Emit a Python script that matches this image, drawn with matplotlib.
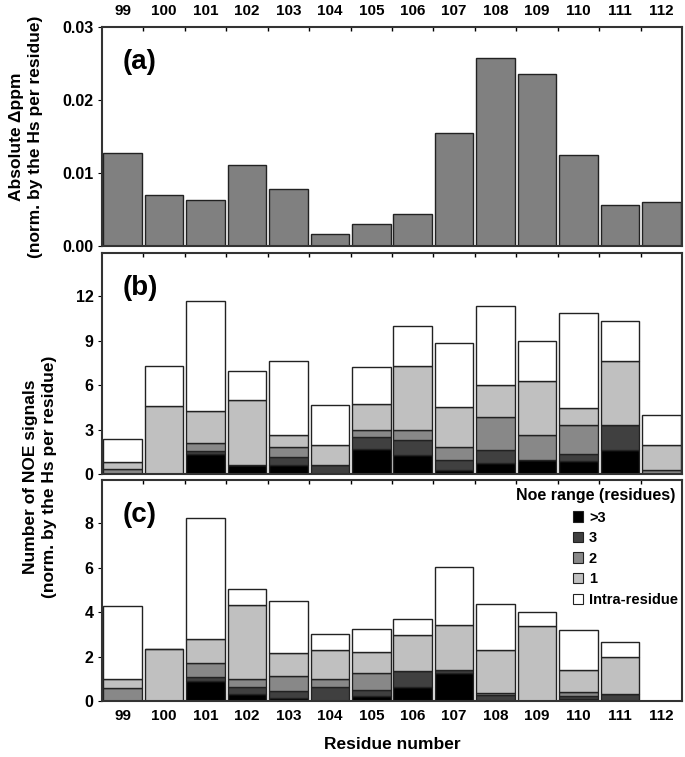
import numpy as np
import matplotlib
matplotlib.use("Agg")
import matplotlib.pyplot as plt
from matplotlib.patches import Patch

plt.rcParams['font.family'] = ['Liberation Sans', 'DejaVu Sans']
plt.rcParams['font.weight'] = 'bold'

residues = ['99', '100', '101', '102', '103', '104', '105', '106', '107', '108', '109', '110', '111', '112']

# (a) absolute delta ppm per residue
dppm = [0.01277, 0.00702, 0.00625, 0.01112, 0.0078, 0.0016, 0.00296,
        0.00433, 0.01541, 0.02571, 0.02353, 0.01245, 0.00565, 0.00606]

# (b) NOE signals by range
b_gt3 = [0, 0, 1.37, 0.61, 0.61, 0, 1.68, 1.28, 0.24, 0.76, 0.94, 0.85, 1.61, 0]
b_r3 = [0, 0, 0.18, 0, 0.53, 0.61, 0.79, 0.99, 0.70, 0.83, 0, 0.47, 1.69, 0]
b_r2 = [0.31, 0, 0.54, 0, 0.68, 0, 0.49, 0.67, 0.85, 2.27, 1.66, 1.98, 0, 0.27]
b_r1 = [0.52, 4.62, 2.15, 4.35, 0.78, 1.32, 1.73, 4.35, 2.74, 2.11, 3.70, 1.16, 4.35, 1.66]
b_intra = [1.50, 2.67, 7.42, 2.02, 5.05, 2.71, 2.53, 2.69, 4.29, 5.36, 2.67, 6.42, 2.67, 2.06]

# (c) NOE signals by range
c_gt3 = [0, 0, 0.90, 0.30, 0.12, 0, 0.22, 0.65, 1.24, 0, 0, 0.10, 0, 0]
c_r3 = [0, 0, 0.19, 0.35, 0.35, 0.65, 0.26, 0.68, 0.15, 0.25, 0, 0.12, 0.33, 0]
c_r2 = [0.59, 0, 0.60, 0.33, 0.65, 0.33, 0.76, 0, 0, 0.12, 0, 0.20, 0, 0]
c_r1 = [0.39, 2.34, 1.11, 3.35, 1.04, 1.33, 0.98, 1.65, 2.04, 1.94, 3.36, 0.99, 1.67, 0]
c_intra = [3.29, 0, 5.43, 0.69, 2.35, 0.70, 1.03, 0.69, 2.59, 2.05, 0.66, 1.80, 0.67, 0]

range_labels = ['>3', '3', '2', '1', 'Intra-residue']
range_colors = ['#000000', '#404040', '#888888', '#c0c0c0', '#ffffff']

x = np.arange(len(residues))
width = 0.93
edge = '#222222'

fig = plt.figure(figsize=(6.85, 7.57), dpi=100)
ax_a = fig.add_axes([0.1489, 0.675, 0.8467, 0.2897])
ax_b = fig.add_axes([0.1489, 0.3738, 0.8467, 0.2919])
ax_c = fig.add_axes([0.1489, 0.074, 0.8467, 0.2919])

ax_a.bar(x, dppm, width, color='#808080', edgecolor=edge, linewidth=1.0)


def stack(ax, series):
    bottom = np.zeros(len(x))
    for vals, col in zip(series, range_colors):
        ax.bar(x, vals, width, bottom=bottom, color=col, edgecolor=edge, linewidth=1.0)
        bottom = bottom + np.array(vals)


stack(ax_b, [b_gt3, b_r3, b_r2, b_r1, b_intra])
stack(ax_c, [c_gt3, c_r3, c_r2, c_r1, c_intra])

ax_a.set_ylim(0, 0.03)
ax_a.set_yticks([0, 0.01, 0.02, 0.03])
ax_a.set_yticklabels(['0.00', '0.01', '0.02', '0.03'])
ax_b.set_ylim(0, 14.9)
ax_b.set_yticks([0, 3, 6, 9, 12])
ax_c.set_ylim(0, 9.95)
ax_c.set_yticks([0, 2, 4, 6, 8])

for ax, lab in zip([ax_a, ax_b, ax_c], ['(a)', '(b)', '(c)']):
    ax.set_xlim(-0.5, len(x) - 0.5)
    ax.set_xticks(x)
    ax.set_xticks(x[:-1] + 0.5, minor=True)
    ax.tick_params(axis='x', which='major', length=0, labelsize=11, pad=6)
    ax.tick_params(axis='x', which='minor', direction='in', length=3,
                   top=True, bottom=False, width=1.0)
    ax.tick_params(axis='y', which='major', direction='out', length=3,
                   labelsize=11.5, pad=3)
    for s in ax.spines.values():
        s.set_linewidth(1.5)
        s.set_color('#333333')
    ax.text(0.0655, 0.84, lab, transform=ax.transAxes, fontsize=20,
            fontweight='bold', ha='center', va='center')

ax_a.xaxis.tick_top()
ax_a.tick_params(axis='x', which='minor', top=True, bottom=False)
ax_a.set_xticklabels(residues)
ax_b.set_xticklabels([])
ax_c.set_xticklabels(residues)

fig.text(0.038, 0.8197, 'Absolute \u0394ppm\n(norm. by the Hs per residue)', rotation=90,
         ha='center', va='center', fontsize=12.5, fontweight='bold', linespacing=1.35)
fig.text(0.058, 0.37, 'Number of NOE signals\n(norm. by the Hs per residue)', rotation=90,
         ha='center', va='center', fontsize=12.5, fontweight='bold', linespacing=1.35)
fig.text(0.5723, 0.016, 'Residue number', ha='center', va='center',
         fontsize=12.5, fontweight='bold')

handles = [Patch(facecolor=c, edgecolor=edge, linewidth=0.8) for c in range_colors]
ax_c.text(0.988, 0.932, 'Noe range (residues)', transform=ax_c.transAxes,
          ha='right', va='center', fontsize=11.5, fontweight='bold')
ax_c.legend(handles, range_labels, loc='upper left', bbox_to_anchor=(0.812, 0.862),
            frameon=False, borderpad=0, borderaxespad=0, handlelength=0.7,
            handleheight=0.7, handletextpad=0.4, labelspacing=0.45,
            prop={'size': 10.5, 'weight': 'bold'})

plt.savefig('out.png', dpi=100)
